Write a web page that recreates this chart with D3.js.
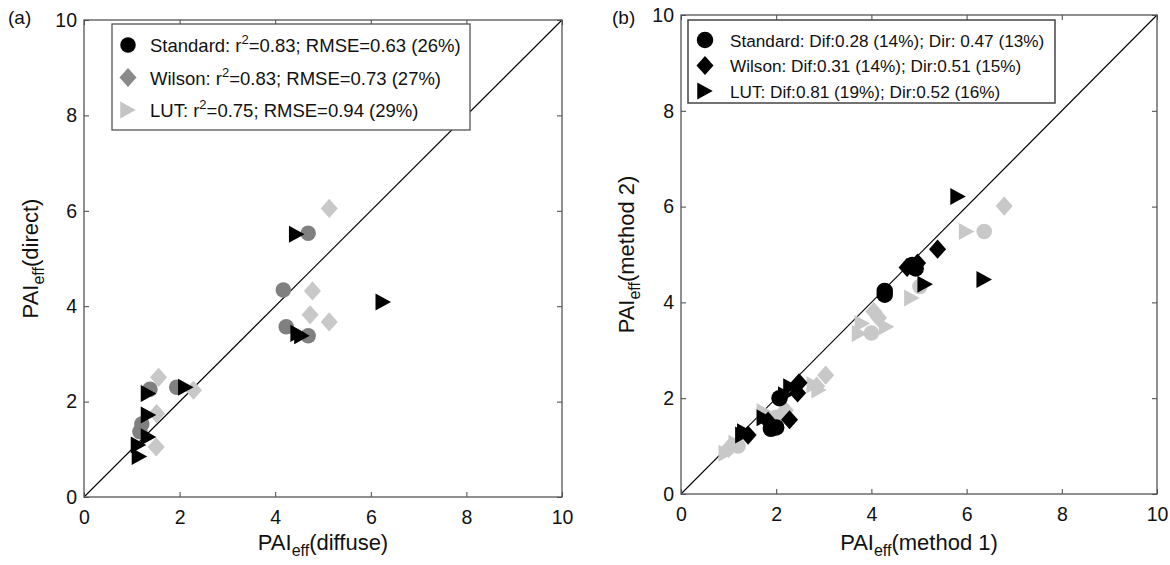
<!DOCTYPE html>
<html>
<head>
<meta charset="utf-8">
<script src="https://cdn.jsdelivr.net/npm/d3@7"></script>
<style>
  html, body { margin: 0; padding: 0; background: #fff; }
  svg { display: block; font-family: "Liberation Sans", Arial, Helvetica, sans-serif; }
</style>
</head>
<body>
<svg id="chart" width="1170" height="565"></svg>
<script>
// ---- Data: PAI_eff estimates ----
const ticks = [0, 2, 4, 6, 8, 10];

// Panel (a): diffuse (x) vs direct (y)
const aStandard = [[4.69,5.53],[4.17,4.34],[4.23,3.57],[4.69,3.38],[1.94,2.30],[1.38,2.26],[1.21,1.53],[1.17,1.37]];
const aWilson   = [[5.13,6.05],[4.78,4.32],[4.73,3.82],[5.13,3.67],[2.29,2.24],[1.56,2.51],[1.52,1.75],[1.51,1.05]];
const aLUT      = [[4.45,5.51],[6.26,4.09],[4.48,3.43],[4.56,3.38],[2.13,2.30],[1.35,2.17],[1.35,1.72],[1.35,1.26],[1.14,1.09],[1.16,0.85]];

// Panel (b): method 1 (x) vs method 2 (y); black = diffuse, grey = direct
const bStdDif = [[4.28,4.24],[4.28,4.16],[4.93,4.71],[4.86,4.78],[2.07,2.00],[2.00,1.39],[1.89,1.36]];
const bWilDif = [[5.39,5.11],[4.75,4.73],[4.97,4.82],[2.48,2.32],[2.45,2.11],[2.28,1.55],[1.83,1.52],[1.41,1.23]];
const bLutDif = [[5.82,6.21],[6.37,4.48],[5.13,4.38],[2.31,2.24],[2.20,2.07],[1.75,1.59],[1.34,1.30],[1.30,1.23]];
const bStdDir = [[6.37,5.48],[5.02,4.33],[4.00,3.36],[2.00,1.60],[1.20,1.00]];
const bWilDir = [[6.79,6.01],[4.05,3.81],[4.15,3.68],[3.04,2.48],[2.19,1.75],[1.00,0.95],[2.85,2.25]];
const bLutDir = [[6.00,5.48],[4.85,4.09],[4.32,3.49],[3.81,3.56],[3.75,3.35],[2.90,2.17],[2.80,2.28],[1.75,1.72],[1.16,1.06],[0.95,0.85]];

const legendA = [
  {shape: "circle",   fill: "#000",     name: "Standard", r2: "0.83", rest: "; RMSE=0.63 (26%)"},
  {shape: "diamond",  fill: "#8a8a8a",  name: "Wilson",   r2: "0.83", rest: "; RMSE=0.73 (27%)"},
  {shape: "triangle", fill: "#c4c4c4",  name: "LUT",      r2: "0.75", rest: "; RMSE=0.94 (29%)"}
];
const legendB = [
  {shape: "circle",   text: "Standard: Dif:0.28 (14%); Dir: 0.47 (13%)"},
  {shape: "diamond",  text: "Wilson: Dif:0.31 (14%); Dir:0.51 (15%)"},
  {shape: "triangle", text: "LUT: Dif:0.81 (19%); Dir:0.52 (16%)"}
];

const svg = d3.select("#chart");

// Marker path generators (centered at 0,0)
function markerPath(shape, s) {
  const p = d3.path();
  if (shape === "circle") {
    p.arc(0, 0, s * 0.5, 0, 2 * Math.PI);
  } else if (shape === "diamond") {
    const w = s * 0.55, h = s * 0.62;
    p.moveTo(0, -h); p.lineTo(w, 0); p.lineTo(0, h); p.lineTo(-w, 0); p.closePath();
  } else {
    const w = s * 0.5, h = s * 0.55;
    p.moveTo(-w, -h); p.lineTo(w, 0); p.lineTo(-w, h); p.closePath();
  }
  return p.toString();
}

function drawPanel(cfg) {
  const x = d3.scaleLinear().domain([0, 10]).range([cfg.left, cfg.right]);
  const y = d3.scaleLinear().domain([0, 10]).range([cfg.bottom, cfg.top]);
  const g = svg.append("g");

  // 1:1 line
  g.append("line")
    .attr("x1", x(0)).attr("y1", y(0)).attr("x2", x(10)).attr("y2", y(10))
    .attr("stroke", "#000").attr("stroke-width", 1.1);

  // Data markers
  cfg.series.forEach(sr => {
    g.append("g").selectAll("path").data(sr.data).join("path")
      .attr("d", markerPath(sr.shape, sr.size))
      .attr("transform", d => `translate(${x(d[0])},${y(d[1])})`)
      .attr("fill", sr.fill);
  });

  // Axes with inward ticks on all four sides
  const tl = 5;
  const axB = d3.axisBottom(x).tickValues(ticks).tickSize(-tl).tickPadding(13);
  const axT = d3.axisTop(x).tickValues(ticks).tickSize(-tl).tickFormat("");
  const axL = d3.axisLeft(y).tickValues(ticks).tickSize(-tl).tickPadding(7);
  const axR = d3.axisRight(y).tickValues(ticks).tickSize(-tl).tickFormat("");
  const styleAxis = sel => {
    sel.select(".domain").remove();
    sel.selectAll(".tick line").attr("stroke", "#444");
    sel.selectAll("text").attr("font-size", 19.5).attr("fill", "#111")
      .attr("font-family", "Liberation Sans, Arial, sans-serif");
  };
  g.append("g").attr("transform", `translate(0,${cfg.bottom})`).call(axB).call(styleAxis);
  g.append("g").attr("transform", `translate(0,${cfg.top})`).call(axT).call(styleAxis);
  g.append("g").attr("transform", `translate(${cfg.left},0)`).call(axL).call(styleAxis);
  g.append("g").attr("transform", `translate(${cfg.right},0)`).call(axR).call(styleAxis);

  // Frame
  g.append("rect")
    .attr("x", cfg.left).attr("y", cfg.top)
    .attr("width", cfg.right - cfg.left).attr("height", cfg.bottom - cfg.top)
    .attr("fill", "none").attr("stroke", "#555").attr("stroke-width", 1.3);

  // Axis titles
  const xt = g.append("text").attr("x", (cfg.left + cfg.right) / 2).attr("y", 550)
    .attr("text-anchor", "middle").attr("font-size", 22).attr("fill", "#111");
  xt.append("tspan").text("PAI");
  xt.append("tspan").attr("font-size", 16).attr("dy", 6).text("eff");
  xt.append("tspan").attr("dy", -6).text(cfg.xlabel);

  const yt = g.append("text")
    .attr("transform", `translate(${cfg.ylabelX},${(cfg.top + cfg.bottom) / 2}) rotate(-90)`)
    .attr("text-anchor", "middle").attr("font-size", 22).attr("fill", "#111");
  yt.append("tspan").text("PAI");
  yt.append("tspan").attr("font-size", 16).attr("dy", 6).text("eff");
  yt.append("tspan").attr("dy", -6).text(cfg.ylabel);

  // Panel tag
  svg.append("text").attr("x", cfg.tagX).attr("y", 24).attr("font-size", 19)
    .attr("fill", "#111").text(cfg.tag);

  return g;
}

// ---- Panel (a) ----
drawPanel({
  left: 84, right: 562, top: 20, bottom: 497,
  xlabel: "(diffuse)", ylabel: "(direct)", ylabelX: 38, tag: "(a)", tagX: 8,
  series: [
    {data: aWilson,   shape: "diamond",  fill: "#c8c8c8", size: 15.5},
    {data: aStandard, shape: "circle",   fill: "#808080", size: 15.5},
    {data: aLUT,      shape: "triangle", fill: "#000",    size: 15.5}
  ]
});

// Legend (a)
(function () {
  const lx = 112, ly = 24, lw = 358, lh = 106;
  const lg = svg.append("g");
  lg.append("rect").attr("x", lx).attr("y", ly).attr("width", lw).attr("height", lh)
    .attr("fill", "#fff").attr("stroke", "#555").attr("stroke-width", 1.3);
  legendA.forEach((d, i) => {
    const cy = ly + 21 + i * 32.5;
    lg.append("path").attr("d", markerPath(d.shape, 15.5))
      .attr("transform", `translate(${lx + 16},${cy})`).attr("fill", d.fill);
    const t = lg.append("text").attr("x", lx + 38).attr("y", cy + 7)
      .attr("font-size", 18.5).attr("fill", "#111");
    t.append("tspan").text(d.name + ": r");
    t.append("tspan").attr("font-size", 13).attr("dy", -8).text("2");
    t.append("tspan").attr("dy", 8).text("=" + d.r2 + d.rest);
  });
})();

// ---- Panel (b) ----
drawPanel({
  left: 681, right: 1157, top: 15, bottom: 494,
  xlabel: "(method 1)", ylabel: "(method 2)", ylabelX: 634, tag: "(b)", tagX: 612,
  series: [
    {data: bWilDir, shape: "diamond",  fill: "#c8c8c8", size: 15.5},
    {data: bStdDir, shape: "circle",   fill: "#c8c8c8", size: 15.5},
    {data: bLutDir, shape: "triangle", fill: "#c8c8c8", size: 15.5},
    {data: bWilDif, shape: "diamond",  fill: "#000",    size: 15.5},
    {data: bStdDif, shape: "circle",   fill: "#000",    size: 16.5},
    {data: bLutDif, shape: "triangle", fill: "#000",    size: 15.5}
  ]
});

// Legend (b)
(function () {
  const lx = 688, ly = 20, lw = 367, lh = 83;
  const lg = svg.append("g");
  lg.append("rect").attr("x", lx).attr("y", ly).attr("width", lw).attr("height", lh)
    .attr("fill", "#fff").attr("stroke", "#444").attr("stroke-width", 1.5);
  legendB.forEach((d, i) => {
    const cy = ly + 20 + i * 25.5;
    lg.append("path").attr("d", markerPath(d.shape, d.shape === "circle" ? 16.5 : 15.5))
      .attr("transform", `translate(${lx + 17},${cy})`).attr("fill", "#000");
    lg.append("text").attr("x", lx + 42).attr("y", cy + 6.5)
      .attr("font-size", 17.2).attr("fill", "#111").text(d.text);
  });
})();
</script>
</body>
</html>
